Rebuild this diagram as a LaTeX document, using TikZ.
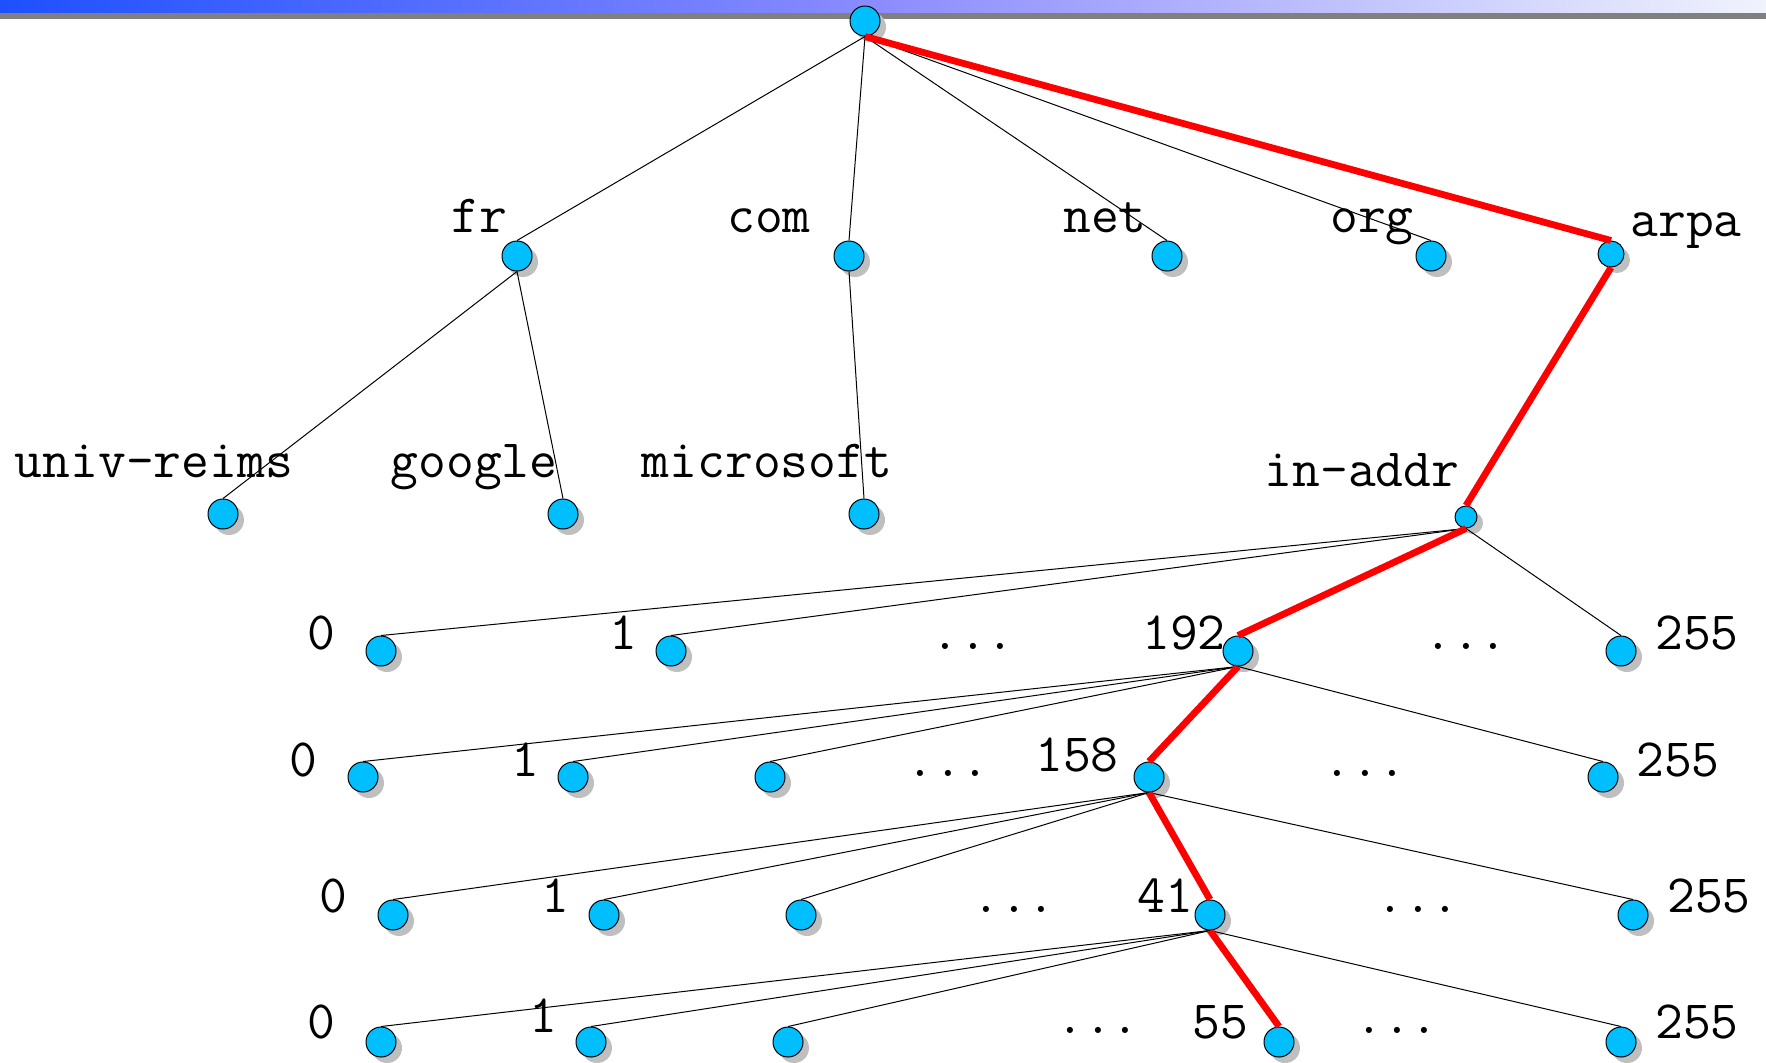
\documentclass[tikz,border=0pt]{standalone}
\usetikzlibrary{shadows}
\definecolor{dnsblue}{RGB}{0,191,255}
\definecolor{barblue}{RGB}{30,80,255}
\definecolor{barpale}{RGB}{240,243,252}
\begin{document}
\begin{tikzpicture}[x=0.5pt,y=-0.5pt,
		dom/.style={circle,draw=black,line width=0.5pt,fill=dnsblue,inner sep=0pt,minimum size=15pt,
			drop shadow={fill=black!25,opacity=1,shadow xshift=3pt,shadow yshift=-3pt}},
		lbl/.style={anchor=base,inner sep=0pt,font=\fontsize{27}{31}\selectfont\ttfamily},
		link/.style={line width=0.5pt},
		walk/.style={line width=3.4pt,red}]
		\useasboundingbox (0,0) rectangle (1766,1062);
		
		% draw title bar
		\shade[left color=barblue,right color=barpale,middle color=blue!45!white] (0,0) rectangle (1766,13);
		\fill[gray] (0,13) rectangle (1766,19);
		
		% draw nodes
		\node[dom] (root) at (865,21) {};
		\node[dom] (fr) at (517,256) {};
		\node[dom] (com) at (849,256) {};
		\node[dom] (net) at (1167,256) {};
		\node[dom] (org) at (1431,256) {};
		\node[dom,minimum size=13pt] (arpa) at (1611,254) {};
		\node[dom] (univ) at (223,514) {};
		\node[dom] (google) at (563,514) {};
		\node[dom] (ms) at (864,514) {};
		\node[dom,minimum size=11pt] (inaddr) at (1466,517) {};
		
		\node[dom] (a0) at (381,651) {};
		\node[dom] (a1) at (671,651) {};
		\node[dom] (a192) at (1238,651) {};
		\node[dom] (a255) at (1621,651) {};
		
		\node[dom] (b0) at (363,777) {};
		\node[dom] (b1) at (573,777) {};
		\node[dom] (b2) at (770,777) {};
		\node[dom] (b158) at (1149,777) {};
		\node[dom] (b255) at (1603,777) {};
		
		\node[dom] (c0) at (393,915) {};
		\node[dom] (c1) at (604,915) {};
		\node[dom] (c2) at (801,915) {};
		\node[dom] (c41) at (1210,915) {};
		\node[dom] (c255) at (1633,915) {};
		
		\node[dom] (d0) at (381,1042) {};
		\node[dom] (d1) at (591,1042) {};
		\node[dom] (d2) at (788,1042) {};
		\node[dom] (d55) at (1279,1042) {};
		\node[dom] (d255) at (1621,1042) {};
		
		% draw labels
		\node[lbl] (tfr) at (479,232) {fr};
		\node[lbl] (tcom) at (769,232) {com};
		\node[lbl] (tnet) at (1105,232) {net};
		\node[lbl] (torg) at (1372,232) {org};
		\node[lbl] (tarpa) at (1686,236) {arpa};
		\node[lbl] (tuniv) at (154,477) {univ-reims};
		\node[lbl] (tgoogle) at (474,477) {google};
		\node[lbl] (tms) at (767,477) {microsoft};
		\node[lbl] (tinaddr) at (1362,486) {in-addr};
		
		\node[lbl] (ta0) at (321,649) {0};
		\node[lbl] (ta1) at (623,649) {1};
		\node[lbl] (tadots) at (973,649) {...};
		\node[lbl] (ta192) at (1184,649) {192};
		\node[lbl] (taend) at (1466,649) {...};
		\node[lbl] (ta255) at (1697,649) {255};
		
		\node[lbl] (tb0) at (303,776) {0};
		\node[lbl] (tb1) at (525,776) {1};
		\node[lbl] (tbdots) at (948,776) {...};
		\node[lbl] (tb158) at (1077,771) {158};
		\node[lbl] (tbend) at (1365,776) {...};
		\node[lbl] (tb255) at (1678,776) {255};
		
		\node[lbl] (tc0) at (333,912) {0};
		\node[lbl] (tc1) at (555,912) {1};
		\node[lbl] (tcdots) at (1014,912) {...};
		\node[lbl] (tc41) at (1165,912) {41};
		\node[lbl] (tcend) at (1418,912) {...};
		\node[lbl] (tc255) at (1709,912) {255};
		
		\node[lbl] (td0) at (321,1038) {0};
		\node[lbl] (td1) at (543,1032) {1};
		\node[lbl] (tddots) at (1098,1033) {...};
		\node[lbl] (td55) at (1220,1038) {55};
		\node[lbl] (tdend) at (1397,1033) {...};
		\node[lbl] (td255) at (1697,1038) {255};
		
		% draw links
		\foreach \c in {fr,com,net,org}
		\draw[link] (root.south) -- (\c.north);
		\foreach \c in {univ,google}
		\draw[link] (fr.south) -- (\c.north);
		\draw[link] (com.south) -- (ms.north);
		\foreach \c in {a0,a1,a255}
		\draw[link] (inaddr.south) -- (\c.north);
		\foreach \c in {b0,b1,b2,b255}
		\draw[link] (a192.south) -- (\c.north);
		\foreach \c in {c0,c1,c2,c255}
		\draw[link] (b158.south) -- (\c.north);
		\foreach \c in {d0,d1,d2,d255}
		\draw[link] (c41.south) -- (\c.north);
		
		% draw resolution path
		\foreach \p/\c in {root/arpa,arpa/inaddr,inaddr/a192,a192/b158,b158/c41,c41/d55}
		\draw[walk] (\p.south) -- (\c.north);
		
\end{tikzpicture}
\end{document}
